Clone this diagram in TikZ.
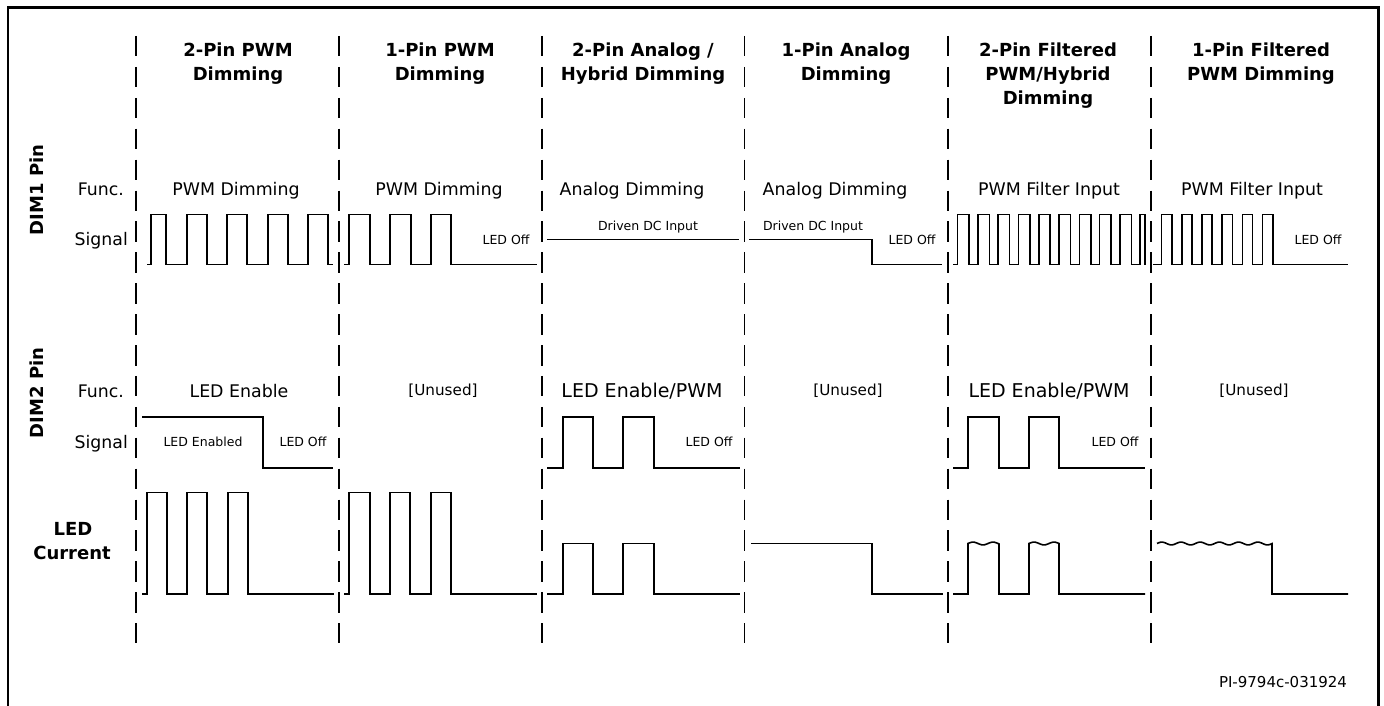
\documentclass[tikz,border=0pt]{standalone}
\usepackage{fontspec}
\setmainfont{DejaVu Sans}
\begin{document}
\begin{tikzpicture}[x=1pt,y=-1pt,
  sig/.style={line width=1.6pt, line join=miter},
  sep/.style={line width=1.3pt, dash pattern=on 20.5pt off 10.4pt},
  hdr/.style={font=\fontsize{18}{22}\selectfont\bfseries, inner sep=0pt, anchor=base},
  lab/.style={font=\fontsize{17.3}{20}\selectfont, inner sep=0pt, anchor=base east},
  fn/.style={font=\fontsize{17.4}{20}\selectfont, inner sep=0pt, anchor=base},
  fnbig/.style={font=\fontsize{19}{22}\selectfont, inner sep=0pt, anchor=base},
  unused/.style={font=\fontsize{15.2}{18}\selectfont, inner sep=0pt, anchor=base},
  sm/.style={font=\fontsize{12.5}{14}\selectfont, inner sep=0pt, anchor=base},
  pin/.style={font=\fontsize{18}{22}\selectfont\bfseries, inner sep=0pt, anchor=base, rotate=90}
]
\useasboundingbox (0,0) rectangle (1384,706);
% frame
\draw[line width=2.4pt] (8,706) -- (8,7.5) -- (1378.5,7.5) -- (1378.5,706);
% column separators
\foreach \i/\xx in {1/136,2/339,3/542,4/744.5,5/948,6/1151}
  \draw[sep] (\xx,36) coordinate (t\i) -- (\xx,643) coordinate (b\i);

% headers
\node[hdr] (h1a) at (238,56.5) {2-Pin PWM};
\node[hdr] (h1b) at (238,80.5) {Dimming};
\node[hdr] (h2a) at (440,56.5) {1-Pin PWM};
\node[hdr] (h2b) at (440,80.5) {Dimming};
\node[hdr] (h3a) at (643,56.5) {2-Pin Analog /};
\node[hdr] (h3b) at (643,80.5) {Hybrid Dimming};
\node[hdr] (h4a) at (846,56.5) {1-Pin Analog};
\node[hdr] (h4b) at (846,80.5) {Dimming};
\node[hdr] (h5a) at (1048,56.5) {2-Pin Filtered};
\node[hdr] (h5b) at (1048,80.5) {PWM/Hybrid};
\node[hdr] (h5c) at (1048,104.5) {Dimming};
\node[hdr] (h6a) at (1261,56.5) {1-Pin Filtered};
\node[hdr] (h6b) at (1261,80.5) {PWM Dimming};

% row labels
\node[pin] (dim1) at (43.5,190) {DIM1 Pin};
\node[pin] (dim2) at (43.5,393) {DIM2 Pin};
\node[lab] (f1) at (124,195) {Func.};
\node[lab] (s1) at (128,245.5) {Signal};
\node[lab] (f2) at (124,397) {Func.};
\node[lab] (s2) at (128,448) {Signal};
\node[hdr] (led1) at (73,535.5) {LED};
\node[hdr] (led2) at (72,559.5) {Current};

% DIM1 functions
\node[fn] (d1c1) at (236,195) {PWM Dimming};
\node[fn] (d1c2) at (439,195) {PWM Dimming};
\node[fn] (d1c3) at (632,195) {Analog Dimming};
\node[fn] (d1c4) at (835,195) {Analog Dimming};
\node[fn] (d1c5) at (1049,195) {PWM Filter Input};
\node[fn] (d1c6) at (1252,195) {PWM Filter Input};

% DIM1 small labels
\node[sm] (o2) at (506,244.5) {LED Off};
\node[sm] (dc3) at (648,230.5) {Driven DC Input};
\node[sm] (dc4) at (813,230.5) {Driven DC Input};
\node[sm] (o4) at (912,244.5) {LED Off};
\node[sm] (o6) at (1318,244.5) {LED Off};

% DIM2 functions
\node[fn] (d2c1) at (239,397) {LED Enable};
\node[unused] (d2c2) at (443,395.5) {[Unused]};
\node[fnbig] (d2c3) at (642,397) {LED Enable/PWM};
\node[unused] (d2c4) at (848,395.5) {[Unused]};
\node[fnbig] (d2c5) at (1049,397) {LED Enable/PWM};
\node[unused] (d2c6) at (1254,395.5) {[Unused]};

% DIM2 small labels
\node[sm] (en1) at (203,446.5) {LED Enabled};
\node[sm] (o21) at (303,446.5) {LED Off};
\node[sm] (o23) at (709,446.5) {LED Off};
\node[sm] (o25) at (1115,446.5) {LED Off};

% part number
\node[font=\fontsize{15}{18}\selectfont, inner sep=0pt, anchor=base] (pi) at (1283,687.5) {PI-9794c-031924};

% ---------- DIM1 signals (H=214.5, L=264.5)
\draw[sig] (147,264.5) -- (151,264.5) -- (151,214.5) -- (166,214.5) -- (166,264.5)
  -- (187,264.5) -- (187,214.5) -- (207,214.5) -- (207,264.5)
  -- (227,264.5) -- (227,214.5) -- (247,214.5) -- (247,264.5)
  -- (268,264.5) -- (268,214.5) -- (288,214.5) -- (288,264.5)
  -- (308,264.5) -- (308,214.5) -- (328,214.5) -- (328,264.5) -- (333,264.5);
\draw[sig] (344,264.5) -- (349,264.5) -- (349,214.5) -- (370,214.5) -- (370,264.5)
  -- (390,264.5) -- (390,214.5) -- (411,214.5) -- (411,264.5)
  -- (431,264.5) -- (431,214.5) -- (451,214.5) -- (451,264.5) -- (537,264.5);
\draw[sig] (547,239.5) -- (739,239.5);
\draw[sig] (749,239.5) -- (872,239.5) -- (872,264.5) -- (942,264.5);
\draw[sig] (953,264.5)
  foreach \k in {0,...,8} { -- ({957.5+20.3*\k},264.5) -- ({957.5+20.3*\k},214.5)
     -- ({969+20.3*\k},214.5) -- ({969+20.3*\k},264.5) }
  -- (1140,264.5) -- (1140,214.5) -- (1145,214.5) -- (1145,264.5);
\draw[sig] (1153,264.5)
  foreach \k in {0,...,5} { -- ({1161.5+20.2*\k},264.5) -- ({1161.5+20.2*\k},214.5)
     -- ({1171.7+20.2*\k},214.5) -- ({1171.7+20.2*\k},264.5) }
  -- (1348,264.5);

% ---------- DIM2 signals (H=417, L=468)
\draw[sig] (142,417) -- (263,417) -- (263,468) -- (333,468);
\draw[sig] (547,468) -- (563,468) -- (563,417) -- (593,417) -- (593,468)
  -- (623,468) -- (623,417) -- (654,417) -- (654,468) -- (740,468);
\draw[sig] (953,468) -- (968,468) -- (968,417) -- (999,417) -- (999,468)
  -- (1029,468) -- (1029,417) -- (1059,417) -- (1059,468) -- (1145,468);

% ---------- LED current (H=492.5, M=543.5, L=594)
\draw[sig] (142,594) -- (147,594) -- (147,492.5) -- (167,492.5) -- (167,594)
  -- (187,594) -- (187,492.5) -- (207,492.5) -- (207,594)
  -- (228,594) -- (228,492.5) -- (248,492.5) -- (248,594) -- (334,594);
\draw[sig] (344,594) -- (349,594) -- (349,492.5) -- (370,492.5) -- (370,594)
  -- (390,594) -- (390,492.5) -- (410,492.5) -- (410,594)
  -- (431,594) -- (431,492.5) -- (451,492.5) -- (451,594) -- (537,594);
\draw[sig] (547,594) -- (563,594) -- (563,543.5) -- (593,543.5) -- (593,594)
  -- (623,594) -- (623,543.5) -- (654,543.5) -- (654,594) -- (740,594);
\draw[sig] (751,543.5) -- (872,543.5) -- (872,594) -- (943,594);
\draw[sig] (953,594) -- (968,594) -- (968,543.5)
  -- plot[domain=0:31, samples=40] ({968+\x},{543.5-1.4*sin(18*\x)})
  -- (999,594) -- (1029,594) -- (1029,543.5)
  -- plot[domain=0:30, samples=40] ({1029+\x},{543.5-1.4*sin(18*\x)})
  -- (1059,594) -- (1145,594);
\draw[sig] plot[domain=0:115, samples=120] ({1157+\x},{543.5-1.4*sin(18.75*\x)})
  -- (1272,594) -- (1348,594);
\end{tikzpicture}
\end{document}
